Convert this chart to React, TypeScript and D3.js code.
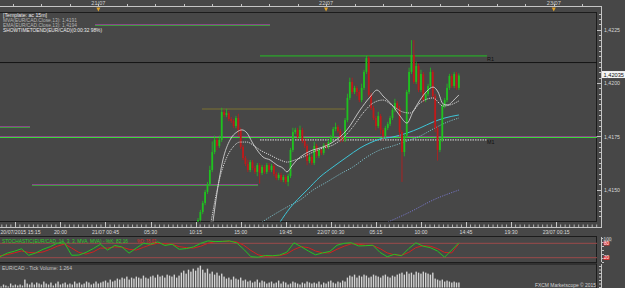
import React from 'react';
import * as d3 from 'd3';

const W = 625;
const H = 288;

// ---------- DATA ----------
// 15m candles, closes (open = previous close)
const firstOpen = 1.4133;
const closes = [
  1.41357, 1.41395, 1.41437, 1.41489, 1.41526, 1.41592, 1.41676, 1.41733, 1.41705, 1.41733,
  1.41864, 1.4185, 1.41859, 1.41831, 1.41822, 1.41798, 1.41836, 1.4178, 1.417, 1.41648,
  1.4162, 1.41592, 1.41629, 1.41601, 1.41583, 1.41615, 1.41578, 1.41606, 1.41583, 1.41615,
  1.41592, 1.41611, 1.41573, 1.41554, 1.41569, 1.41545, 1.41559, 1.41536, 1.41564, 1.41686,
  1.4177, 1.4178, 1.41747, 1.4178, 1.41728, 1.41705, 1.41634, 1.41653, 1.41625, 1.41705,
  1.41658, 1.41686, 1.41672, 1.41709, 1.417, 1.41723, 1.41747, 1.41784, 1.41794, 1.41775,
  1.41742, 1.41733, 1.41826, 1.4193, 1.42005, 1.41958, 1.41977, 1.41958, 1.4192, 1.41977,
  1.42052, 1.42117, 1.41944, 1.41883, 1.41836, 1.41798, 1.41845, 1.4178, 1.41751, 1.41789,
  1.41808, 1.41836, 1.41873, 1.41906, 1.41883, 1.4177, 1.41676, 1.41751, 1.41958, 1.42052,
  1.42131, 1.42005, 1.4208, 1.41967, 1.42042, 1.4192, 1.41948, 1.41986, 1.42052, 1.41939,
  1.41789, 1.41686, 1.41733, 1.41892, 1.4192, 1.41977, 1.42033, 1.41986, 1.42042, 1.41977,
  1.42035,
];
// wick lengths in pips
const upperWick = [
  1, 1, 1, 1, 1, 2, 5, 2, 1, 2,
  2, 1, 2, 1, 1, 1, 1, 2, 1, 1,
  1, 2, 1, 1, 1, 1, 1, 1, 1, 1,
  1, 1, 1, 1, 1, 1, 1, 1, 1, 1,
  2, 1, 1, 2, 1, 1, 1, 1, 1, 2,
  1, 1, 1, 1, 1, 1, 1, 1, 2, 1,
  1, 1, 1, 2, 2, 2, 1, 1, 1, 2,
  1, 1, 1, 1, 1, 1, 2, 1, 1, 1,
  1, 1, 1, 2, 1, 1, 1, 1, 1, 2,
  7, 7, 2, 1, 2, 1, 1, 1, 2, 1,
  1, 1, 1, 1, 1, 2, 1, 1, 1, 1,
  1,
];
const lowerWick = [
  1, 1, 1, 1, 1, 1, 1, 1, 2, 1,
  1, 1, 1, 1, 1, 1, 1, 3, 1, 1,
  1, 1, 1, 1, 1, 2, 5, 1, 1, 1,
  1, 1, 1, 1, 1, 1, 1, 1, 2, 1,
  1, 1, 1, 1, 1, 1, 2, 1, 1, 1,
  1, 1, 1, 1, 1, 1, 1, 1, 1, 1,
  2, 1, 1, 1, 1, 1, 1, 2, 1, 1,
  1, 1, 1, 1, 1, 2, 1, 2, 2, 1,
  1, 1, 1, 1, 1, 2, 14, 2, 1, 1,
  1, 1, 1, 1, 1, 1, 1, 1, 1, 1,
  2, 5, 1, 1, 1, 1, 1, 1, 1, 1,
  1,
];

// moving averages [candle index, price]
const mvaLine: [number, number][] = [
  [6.3, 1.41348], [8, 1.41484], [10.5, 1.41639], [13.5, 1.41733], [16.4, 1.4177], [18.5, 1.4178],
  [20.7, 1.41765], [22.8, 1.41723], [24.9, 1.41686], [27.4, 1.41653], [30.4, 1.41639], [33.3, 1.41615],
  [35.8, 1.41601], [37.5, 1.41583], [39.6, 1.41611], [41.7, 1.41639], [44.3, 1.41662], [48.5, 1.41686],
  [51.4, 1.41695], [56.9, 1.41723], [62.8, 1.4178], [68.3, 1.41873], [72.5, 1.41934], [75.5, 1.41967],
  [78, 1.41939], [82.2, 1.41892], [85.2, 1.41845], [88.1, 1.41812], [90.6, 1.41864], [93.6, 1.4192],
  [96.5, 1.41962], [99.1, 1.41981], [101.2, 1.41958], [103.3, 1.41902], [105.4, 1.41897], [107.5, 1.41916],
  [110, 1.41944],
];
const emaLine: [number, number][] = [
  [5.5, 1.41348], [7.2, 1.41451], [9.3, 1.41559], [12.2, 1.41653], [14.8, 1.417], [17.7, 1.41723],
  [20.7, 1.41723], [23.2, 1.41709], [26.1, 1.41686], [30.4, 1.41662], [34.6, 1.41639], [37.5, 1.41629],
  [40.9, 1.41639], [44.3, 1.41653], [48.5, 1.41676], [52.7, 1.41695], [56.9, 1.41709], [61.1, 1.41742],
  [65.3, 1.41794], [69.6, 1.41859], [73.8, 1.41906], [78, 1.4192], [82.2, 1.41892], [86.4, 1.41864],
  [89.4, 1.41859], [93.6, 1.41906], [99.1, 1.4193], [103.3, 1.41892], [107.5, 1.41902], [110, 1.41916],
];
const cyanLine: [number, number][] = [
  [34.6, 1.41348], [38.8, 1.41414], [43, 1.41465], [46, 1.41498], [51.4, 1.41559], [56.9, 1.41606],
  [62.8, 1.41653], [68.3, 1.41695], [72.5, 1.41719], [76.7, 1.41737], [82.2, 1.41747], [88.1, 1.41765],
  [93.6, 1.41789], [99.1, 1.41817], [104.1, 1.41836], [110, 1.4185],
];
const cyanDotLine: [number, number][] = [
  [27, 1.41348], [32.5, 1.41386], [37.5, 1.41418], [43, 1.41451], [48.5, 1.41498], [54.4, 1.41536],
  [59.9, 1.41573], [65.3, 1.41606], [71.2, 1.41653], [76.7, 1.41686], [82.2, 1.41705], [88.1, 1.41728],
  [93.6, 1.41751], [99.1, 1.41784], [104.1, 1.41812], [110, 1.41836],
];
const purpleDotLine: [number, number][] = [
  [80.1, 1.41348], [89.4, 1.41395], [99.1, 1.41451], [110, 1.41498],
];

// horizontal levels
const r1Level = 1.42127;
const m1Level = 1.41733;
const blackLevel = 1.42096;
const pivotFull = 1.41747;
const pivotTop = 1.42272;
const pivotLeft = 1.41794;
const pivotLow = 1.41522;
const oliveLevel = 1.41878;
const lastPrice = 1.42035;

// stochastic %K / %D (sampled every 3 candles from the left edge)
const stochK = [
  24, 39, 47, 57, 30, 40, 55, 66, 81, 81, 30, 31, 42, 58, 76, 52, 71, 65, 39, 60,
  80, 76, 86, 71, 76, 55, 58, 65, 80, 90, 87, 88, 90, 82, 55, 24, 22, 29, 28, 31,
  43, 82, 66, 48, 32, 40, 46, 72, 80, 82, 69, 70, 72, 42, 24, 34, 28, 58, 82, 68,
  62, 48, 22, 52, 82,
];
const stochD = [
  28, 33, 40, 48, 42, 40, 44, 55, 68, 77, 60, 42, 35, 44, 60, 60, 65, 64, 55, 52,
  63, 74, 80, 78, 76, 66, 62, 60, 68, 80, 87, 88, 88, 86, 72, 50, 32, 26, 27, 29,
  36, 54, 66, 62, 48, 40, 40, 55, 68, 78, 76, 72, 71, 58, 40, 32, 30, 42, 62, 70,
  68, 58, 42, 40, 78,
];
const stochLevels = [20, 80];

// tick volume per candle, starting at candle index -84
const volumeStart = -84;
const volumes = [
  500, 250, 750, 500, 250, 1000, 500, 750,
  500, 750, 500, 2000, 1000, 750, 1250,
  750, 1250, 1000, 750, 1500, 1000, 750, 1250, 500, 1000, 1500, 750, 1000, 1250, 750,
  1000, 750, 1500, 1000, 1250, 750, 1000, 1500, 1250, 750, 1000, 1500, 1000, 1250,
  1500, 1750, 1250, 2000, 1500, 1750,
  2250, 2000, 2500, 2250, 2750, 2000, 2500, 2250, 2750, 2500, 2250, 3000, 2500, 2250, 2750,
  3000, 2500, 3250, 2750, 3000, 2500, 3250, 3000, 2750, 3250, 2500, 3000,
  3750, 4250, 3500, 4500, 4000, 4750, 4250, 5000,
  5500, 4500, 3750, 4750, 3500, 4000, 3250, 3750, 3000, 3500,
  2750, 2250, 2500, 2000, 2750, 2250, 2000, 2500,
  1750, 2000, 1500, 1750, 1250, 1500, 2000, 1250, 1750, 1500, 1000, 1250, 1500, 1000, 1250,
  1750, 1000, 1500, 1250, 750, 1000, 1500, 1250, 1000, 750, 1250, 1000, 1500, 1250, 1000,
  1250, 1000, 1500, 750, 1250, 1000, 1500, 1750, 1250, 1000, 1500, 1250, 1750, 1500,
  2500, 3000, 2750, 3250, 2500, 3000, 2750, 3250, 3000, 2500, 2750, 3250, 3000, 2750, 2500,
  3000, 3250, 2750, 2500, 3000, 2750, 3250,
  3500, 3750, 3250, 4000, 3500, 3750, 3250, 4000, 3750, 3500, 4000, 3750, 3500, 3250, 3750,
  2250, 2000, 1750, 2000, 1500, 1750, 1500, 1250, 1500, 1250, 1264,
];

const priceMajorTicks = [1.415, 1.4175, 1.42, 1.4225];
const priceTickLabels = ['1,4150', '1,4175', '1,4200', '1,4225'];
const timeLabels = [
  '20/07/2015 15:15', '20:00', '21/07 00:45', '05:30', '10:15', '15:00', '19:45',
  '22/07 00:30', '05:15', '10:00', '14:45', '19:30', '23/07 00:15',
];
const dayLabels = ['21/07', '22/07', '23/07'];
const dayIndex = [-42, 54, 150];

// ---------- STYLE ----------
const BG = '#474747';
const FRAME = '#1c1c1c';
const AXIS = '#c4c4c4';
const GREEN = '#1fc21f';
const RED = '#c01a1a';
const FONT = 'Liberation Sans, Arial, sans-serif';
const NARROW = 'Liberation Sans Narrow, Liberation Sans, Arial, sans-serif';
const PIP = 0.0001;

export default function App() {
  const x = d3.scaleLinear().domain([0, 110]).range([198, 458.9]);
  const y = d3.scaleLinear().domain([1.415, 1.4225]).range([189.6, 29.7]);
  const sx = d3.scaleLinear().domain([0, stochK.length - 1]).range([0, 458.9]);
  const sy = d3.scaleLinear().domain([0, 100]).range([262.5, 238.5]);
  const vy = d3.scaleLinear().domain([0, 5800]).range([287.5, 264.5]);

  const maGen = d3
    .line<[number, number]>()
    .x((d) => x(d[0]))
    .y((d) => y(d[1]))
    .curve(d3.curveMonotoneX);
  const stGen = d3
    .line<number>()
    .x((_, i) => sx(i))
    .y((d) => sy(d))
    .curve(d3.curveLinear);

  const plotRight = 597;
  const axisX = 602;

  // time axis ticks
  const majorIdx = d3.range(0, 14).map((k) => -77 + 19 * k);
  const minorIdx: number[] = [];
  for (let k = -1; k < 13; k++) {
    for (let m = 1; m < 10; m++) minorIdx.push(-77 + 19 * k + 1.9 * m);
  }
  const topTicks = d3.range(0, 21).map((k) => -78 + 12 * k).filter((i) => x(i) < 600);
  const priceTicks = d3.range(0, 39).map((k) => 1.41375 + k * 0.00025);

  const dbl = (p: number, x1: number, x2: number, bright = false) => (
    <g>
      <line x1={x1} x2={x2} y1={Math.round(y(p)) - 0.5} y2={Math.round(y(p)) - 0.5} stroke="#8a468a" strokeWidth={1} />
      <line x1={x1} x2={x2} y1={Math.round(y(p)) + 0.5} y2={Math.round(y(p)) + 0.5} stroke={bright ? '#3ad83a' : '#3f9a3f'} strokeWidth={1} />
    </g>
  );

  return (
    <svg
      width={W}
      height={H}
      viewBox={`0 0 ${W} ${H}`}
      style={{ position: 'absolute', left: 0, top: 0, display: 'block' }}
      fontFamily={FONT}
    >
      <defs>
        <clipPath id="plot">
          <rect x={0} y={12.5} width={plotRight} height={209} />
        </clipPath>
        <clipPath id="stoch">
          <rect x={0} y={237.5} width={plotRight} height={24.5} />
        </clipPath>
        <clipPath id="vol">
          <rect x={0} y={264.5} width={plotRight} height={24} />
        </clipPath>
      </defs>
      <rect x={0} y={0} width={W} height={H} fill={BG} />

      {/* top time strip */}
      <line x1={0} x2={axisX} y1={6.5} y2={6.5} stroke={AXIS} strokeWidth={1} />
      {topTicks.map((i) => (
        <line key={'tt' + i} x1={Math.round(x(i)) + 0.5} x2={Math.round(x(i)) + 0.5} y1={4} y2={6.5} stroke={AXIS} />
      ))}
      {dayIndex.map((i, k) => (
        <g key={'day' + k}>
          <text x={x(i)} y={5.2} fontSize={5.5} fill="#d0d0d0" textAnchor="middle" textLength={14} lengthAdjust="spacingAndGlyphs">
            {dayLabels[k]}
          </text>
          <path d={`M${x(i) - 2},7.5 L${x(i) + 2},7.5 L${x(i)},11.5 Z`} fill="#e0a22a" />
        </g>
      ))}

      {/* main panel frame */}
      <line x1={0} x2={plotRight} y1={12.5} y2={12.5} stroke={FRAME} />
      <line x1={plotRight - 0.5} x2={plotRight - 0.5} y1={12} y2={222} stroke={FRAME} />
      <line x1={0} x2={plotRight} y1={221.5} y2={221.5} stroke={FRAME} />

      <g clipPath="url(#plot)">
        {/* levels */}
        <line x1={0} x2={plotRight} y1={y(blackLevel)} y2={y(blackLevel)} stroke="#151515" strokeWidth={1} />
        {dbl(pivotTop, 95, 270)}
        {dbl(pivotLeft, 0, 30)}
        {dbl(pivotLow, 32, 258)}
        <line x1={202} x2={345} y1={y(oliveLevel)} y2={y(oliveLevel)} stroke="#7d7332" strokeWidth={1} />
        {dbl(pivotFull, 0, plotRight, true)}
        <line x1={260} x2={487} y1={y(r1Level)} y2={y(r1Level)} stroke="#22c022" strokeWidth={1} />
        <line x1={260} x2={487} y1={y(m1Level)} y2={y(m1Level)} stroke="#e0e0e0" strokeWidth={1} strokeDasharray="1.5,1" />

        {/* moving averages */}
        <path d={maGen(purpleDotLine) || ''} fill="none" stroke="#7676c4" strokeWidth={1} strokeDasharray="1.2,1.2" />
        <path d={maGen(cyanDotLine) || ''} fill="none" stroke="#7ab8c2" strokeWidth={1} strokeDasharray="1.2,1.2" />
        <path d={maGen(cyanLine) || ''} fill="none" stroke="#3ec6d8" strokeWidth={1} />

        {/* candles */}
        {closes.map((c, i) => {
          const o = i === 0 ? firstOpen : closes[i - 1];
          const hi = Math.max(o, c) + upperWick[i] * PIP;
          const lo = Math.min(o, c) - lowerWick[i] * PIP;
          const col = c >= o ? GREEN : RED;
          const cx = x(i);
          const top = y(Math.max(o, c));
          const bot = y(Math.min(o, c));
          return (
            <g key={'c' + i}>
              <line x1={cx} x2={cx} y1={y(hi)} y2={y(lo)} stroke={col} strokeWidth={0.8} />
              <rect x={cx - 0.9} width={1.8} y={top} height={Math.max(0.8, bot - top)} fill={col} />
            </g>
          );
        })}

        <path d={maGen(emaLine) || ''} fill="none" stroke="#d4d4d4" strokeWidth={1} strokeDasharray="1.2,1" />
        <path d={maGen(mvaLine) || ''} fill="none" stroke="#d0d0d0" strokeWidth={0.9} />
      </g>
      <text x={487} y={61} fontSize={6} fill="#111" textLength={7} lengthAdjust="spacingAndGlyphs">R1</text>
      <text x={487} y={144} fontSize={6} fill="#111" textLength={7.5} lengthAdjust="spacingAndGlyphs">M1</text>

      {/* legend */}
      <text x={3} y={17} fontSize={5.6} fill="#ececec" textLength={44} lengthAdjust="spacingAndGlyphs">[Template: ac 15m]</text>
      <text x={3} y={22} fontSize={5.6} fill="#b4b4b4" textLength={74} lengthAdjust="spacingAndGlyphs">MVA(EUR/CAD.Close,13): 1,4191</text>
      <text x={3} y={27} fontSize={5.6} fill="#b4b4b4" textLength={74} lengthAdjust="spacingAndGlyphs">EMA(EUR/CAD.Close,13): 1,4194</text>
      <text x={3} y={32} fontSize={5.6} fill="#ececec" textLength={99} lengthAdjust="spacingAndGlyphs">SHOWTIMETOEND(EUR/CAD)(0:00:32 98%)</text>

      {/* price axis */}
      <line x1={axisX - 0.5} x2={axisX - 0.5} y1={6} y2={228} stroke={AXIS} />
      {priceTicks.map((p, k) => {
        const isMajor = priceMajorTicks.some((m) => Math.abs(m - p) < 1e-7);
        const yy = Math.round(y(p)) + 0.5;
        return <line key={'pt' + k} x1={isMajor ? 597 : 599} x2={axisX} y1={yy} y2={yy} stroke={AXIS} />;
      })}
      {priceMajorTicks.map((p, k) => (
        <text key={'pl' + k} x={604} y={y(p) + 2.2} fontSize={6} fill="#d6d6d6" textLength={16} lengthAdjust="spacingAndGlyphs">
          {priceTickLabels[k]}
        </text>
      ))}
      <rect x={602} y={y(lastPrice) - 4.5} width={23} height={7} fill="#f4f4f4" />
      <text x={603.5} y={y(lastPrice) + 1.6} fontSize={6} fill="#111" textLength={20.5} lengthAdjust="spacingAndGlyphs">
        1,42035
      </text>

      {/* bottom time axis */}
      <line x1={0} x2={axisX} y1={227.5} y2={227.5} stroke={AXIS} />
      {minorIdx.map((i, k) =>
        x(i) > 0 && x(i) < axisX ? (
          <line key={'mt' + k} x1={x(i)} x2={x(i)} y1={224.5} y2={227.5} stroke={AXIS} strokeWidth={0.9} />
        ) : null
      )}
      {majorIdx.map((i) => (
        <line key={'Mt' + i} x1={Math.round(x(i)) + 0.5} x2={Math.round(x(i)) + 0.5} y1={222} y2={227.5} stroke={AXIS} />
      ))}
      {timeLabels.map((t, k) => {
        const cx = x(majorIdx[k]);
        const long = t.length > 6;
        const w = k === 0 ? 40 : long ? 27 : 13;
        return (
          <text
            key={'tl' + k}
            x={k === 0 ? 0.5 : cx}
            y={234.3}
            fontSize={5.8}
            fill="#d8d8d8"
            textAnchor={k === 0 ? 'start' : 'middle'}
            textLength={w}
            lengthAdjust="spacingAndGlyphs"
          >
            {t}
          </text>
        );
      })}

      {/* stochastic panel */}
      <line x1={0} x2={plotRight} y1={236.5} y2={236.5} stroke={FRAME} />
      <line x1={plotRight - 0.5} x2={plotRight - 0.5} y1={236} y2={262.5} stroke={FRAME} />
      <line x1={0} x2={plotRight} y1={262.5} y2={262.5} stroke={FRAME} />
      <line x1={axisX - 0.5} x2={axisX - 0.5} y1={237} y2={262} stroke={AXIS} />
      {d3.range(0, 7).map((k) => (
        <line key={'st' + k} x1={axisX} x2={axisX + 2} y1={238.5 + k * 4} y2={238.5 + k * 4} stroke={AXIS} />
      ))}
      {stochLevels.map((v) => (
        <line key={'sl' + v} x1={0} x2={plotRight} y1={sy(v)} y2={sy(v)} stroke="#9c4a4a" strokeWidth={1} />
      ))}
      <g clipPath="url(#stoch)">
        <path d={stGen(stochD) || ''} fill="none" stroke="#d42020" strokeWidth={1} />
        <path d={stGen(stochK) || ''} fill="none" stroke="#22c422" strokeWidth={1} />
      </g>
      <text x={2} y={242.5} fontSize={5.2} fontFamily={NARROW} fill="#2ad02a" textLength={126} lengthAdjust="spacingAndGlyphs">
        STOCHASTIC(EUR/CAD, 14, 3, 3, MVA, MVA) - %K: 82,16
      </text>
      <text x={137} y={242.5} fontSize={5.2} fontFamily={NARROW} fill="#e02424" textLength={19} lengthAdjust="spacingAndGlyphs">
        %D: 78,02
      </text>
      <rect x={603} y={237.8} width={9} height={4} fill="#5a5a5a" />
      <text x={603.5} y={241.4} fontSize={4.5} fill="#c8c8c8" textLength={8} lengthAdjust="spacingAndGlyphs">100</text>
      {stochLevels.map((v) => (
        <g key={'sb' + v}>
          <rect x={603.5} y={sy(v) - 2} width={6} height={4.2} fill="#d83030" />
          <text x={604} y={sy(v) + 1.6} fontSize={4.5} fill="#fff" textLength={5} lengthAdjust="spacingAndGlyphs">
            {String(v)}
          </text>
        </g>
      ))}

      {/* volume panel */}
      <line x1={0} x2={plotRight} y1={264} y2={264} stroke={FRAME} />
      <line x1={plotRight - 0.5} x2={plotRight - 0.5} y1={264} y2={288} stroke={FRAME} />
      <line x1={axisX - 0.5} x2={axisX - 0.5} y1={264} y2={288} stroke={AXIS} />
      {d3.range(0, 7).map((k) => (
        <line key={'vt' + k} x1={axisX - 3} x2={axisX} y1={266.5 + k * 3.5} y2={266.5 + k * 3.5} stroke={AXIS} />
      ))}
      <g clipPath="url(#vol)">
        {volumes.map((v, k) => {
          const i = volumeStart + k;
          const cx = x(i);
          return <rect key={'v' + k} x={cx - 0.7} width={1.4} y={vy(v)} height={vy(0) - vy(v)} fill="#d4d4d4" />;
        })}
      </g>
      <text x={2} y={269.5} fontSize={5.6} fill="#c4c4c4" textLength={70} lengthAdjust="spacingAndGlyphs">
        EUR/CAD - Tick Volume: 1.264
      </text>
      <text x={535} y={286.5} fontSize={5.6} fill="#d6d6d6" textLength={61} lengthAdjust="spacingAndGlyphs">
        FXCM Marketscope © 2015
      </text>
    </svg>
  );
}
